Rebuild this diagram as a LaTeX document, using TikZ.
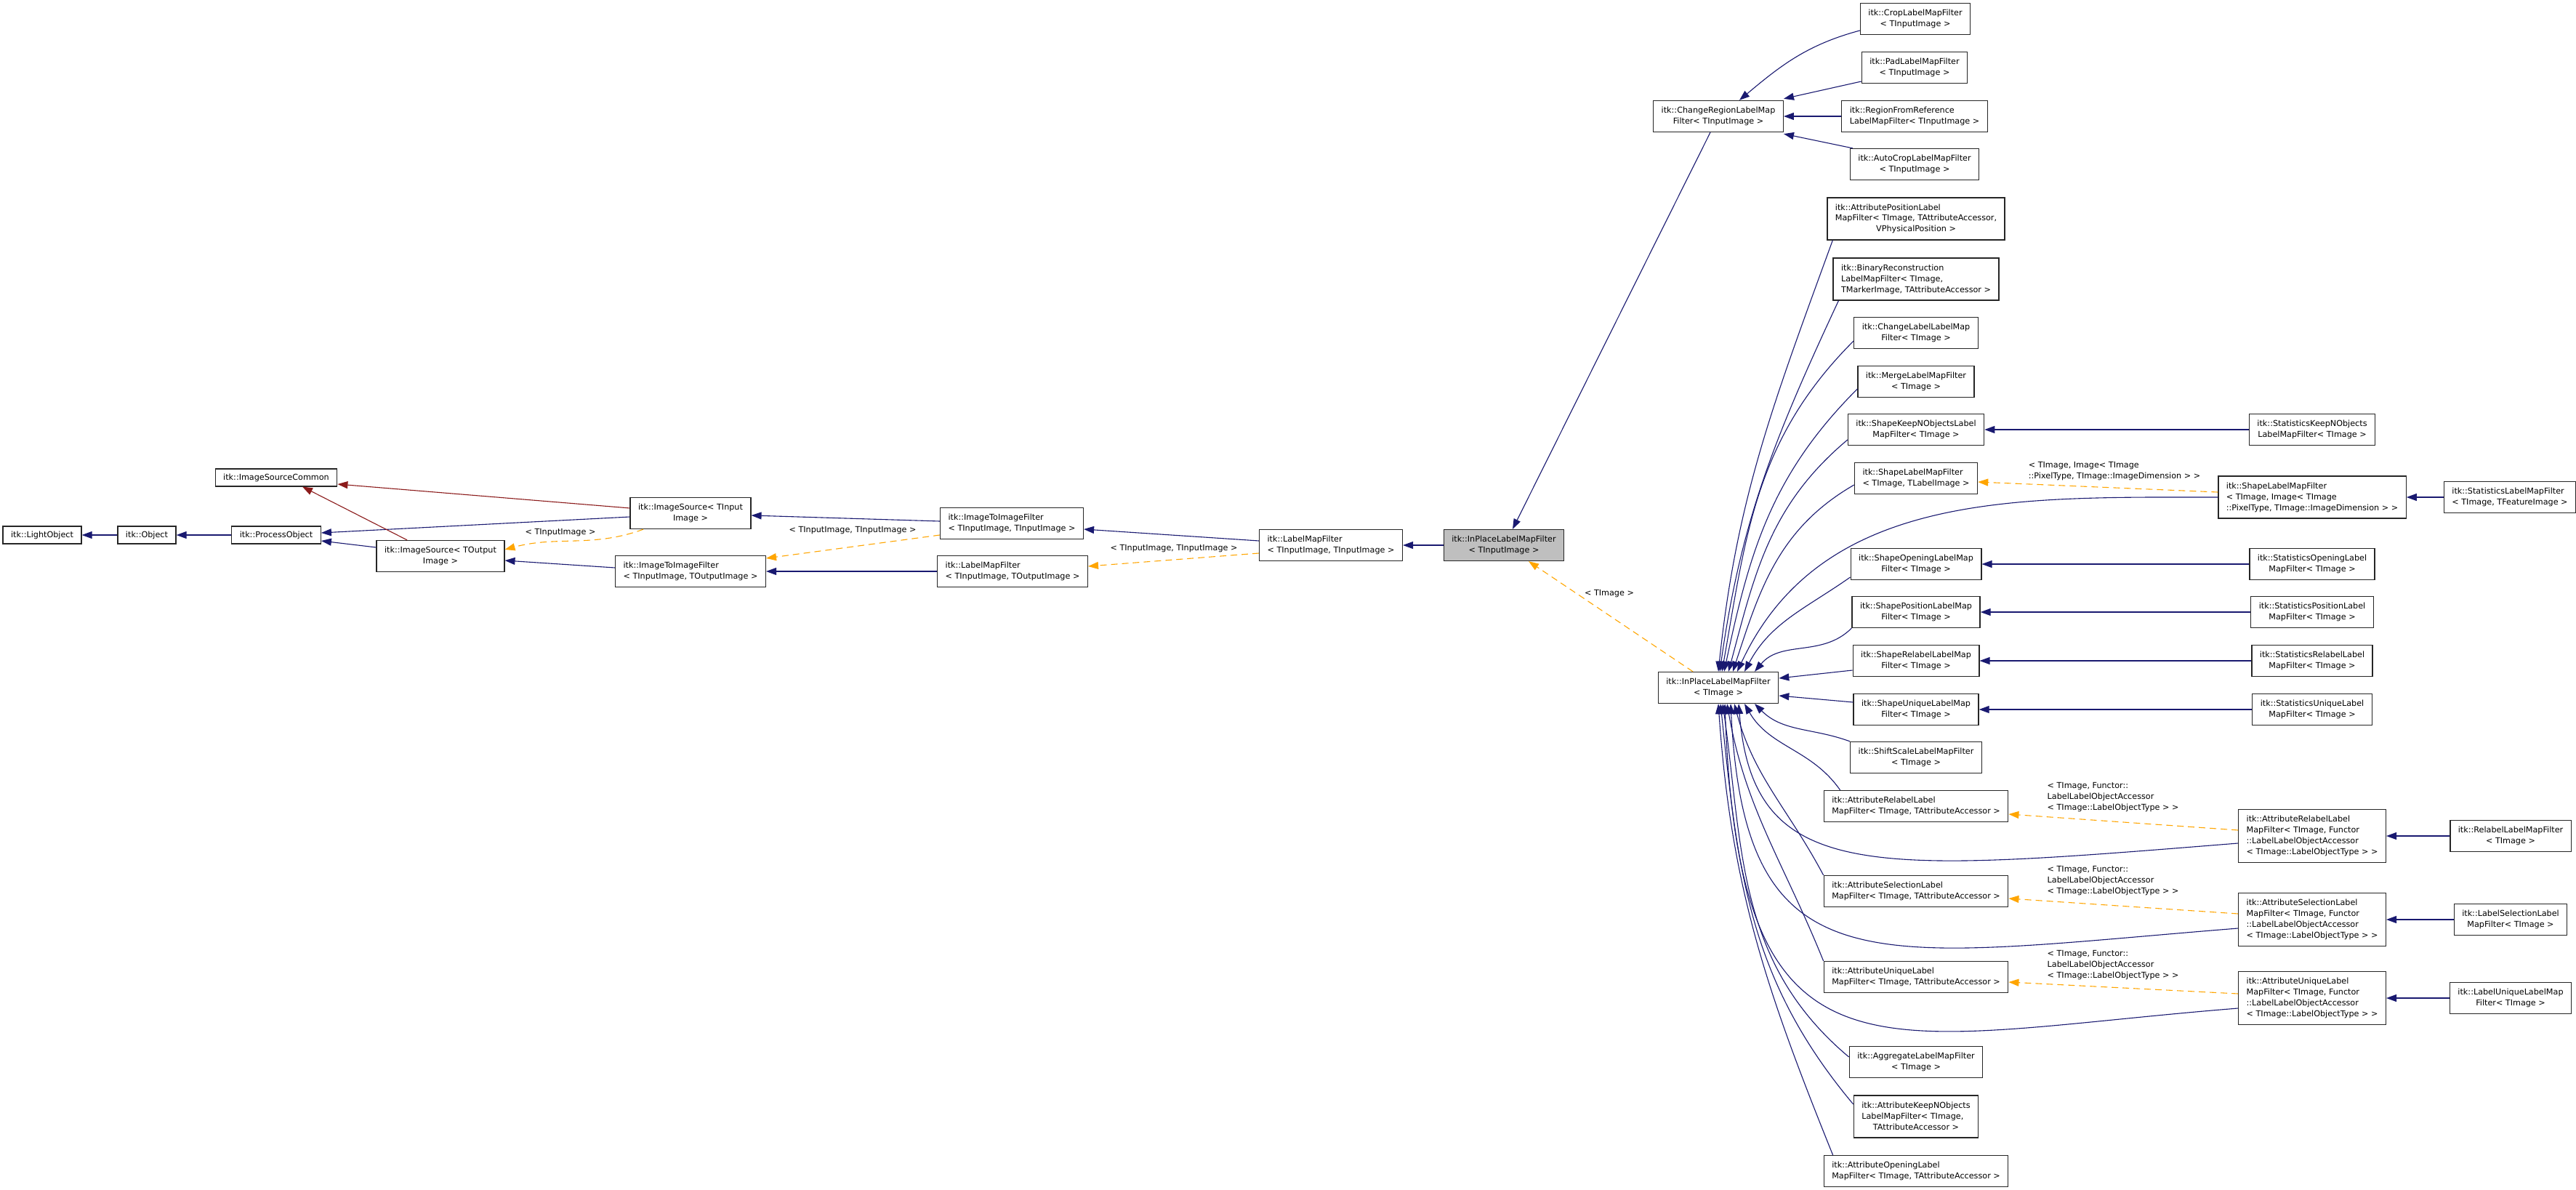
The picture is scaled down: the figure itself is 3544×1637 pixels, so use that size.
\documentclass[tikz,border=0pt]{standalone}
\usepackage{fontspec}
\setmainfont{DejaVu Sans}
\usetikzlibrary{arrows.meta}

\definecolor{navyline}{HTML}{191970}
\definecolor{orangeline}{HTML}{FFA500}
\definecolor{redline}{HTML}{8B1A1A}
\definecolor{nodegray}{HTML}{BFBFBF}

% first lines left, last line centred (doxygen labels)
\newcommand{\dl}[2]{\begin{tabular}{@{}l@{}}#1\\\multicolumn{1}{@{}c@{}}{#2}\end{tabular}}

\begin{document}
\begin{tikzpicture}[
				x=1pt, y=-1pt,
				cls/.style={draw=black!85, line width=1.3pt, fill=white, inner xsep=11pt, inner ysep=6.5pt, font=\fontsize{11.2}{15}\selectfont},
				current/.style={cls, fill=nodegray},
				lbl/.style={inner sep=0pt, align=left, font=\fontsize{11.2}{15}\selectfont},
				pub/.style={-{Triangle[length=14pt, width=10pt]}, draw=navyline, line width=1.1pt},
				priv/.style={-{Triangle[length=14pt, width=10pt]}, draw=redline, line width=1.1pt},
				tmpl/.style={-{Triangle[length=14pt, width=10pt]}, draw=orangeline, line width=1.1pt, dash pattern=on 9pt off 6pt}
				]
				
				\useasboundingbox (0,0) rectangle (3544,1637);
				
				% Base classes
				\node[cls] (lightobj) at (58,736) {itk::LightObject};
				\node[cls] (object) at (202,736) {itk::Object};
				\node[cls] (procobj) at (380,736) {itk::ProcessObject};
				\node[cls] (srccommon) at (380,657) {itk::ImageSourceCommon};
				\node[cls] (srcout) at (606,765) {\dl{itk::ImageSource< TOutput}{Image >}};
				\node[cls] (srcin) at (950,706) {\dl{itk::ImageSource< TInput}{Image >}};
				\node[cls] (i2iout) at (950,786) {\dl{itk::ImageToImageFilter}{< TInputImage, TOutputImage >}};
				\node[cls] (i2iin) at (1392,720) {\dl{itk::ImageToImageFilter}{< TInputImage, TInputImage >}};
				\node[cls] (lmfout) at (1393,786) {\dl{itk::LabelMapFilter}{< TInputImage, TOutputImage >}};
				\node[cls] (lmfin) at (1831,750) {\dl{itk::LabelMapFilter}{< TInputImage, TInputImage >}};
				\node[current] (inplacein) at (2069,750) {\dl{itk::InPlaceLabelMapFilter}{< TInputImage >}};
				\node[cls] (inplace) at (2364,946) {\dl{itk::InPlaceLabelMapFilter}{< TImage >}};
				
				% Region filters
				\node[cls] (chregion) at (2364,160) {\dl{itk::ChangeRegionLabelMap}{Filter< TInputImage >}};
				\node[cls] (crop) at (2635,26) {\dl{itk::CropLabelMapFilter}{< TInputImage >}};
				\node[cls] (pad) at (2634,93) {\dl{itk::PadLabelMapFilter}{< TInputImage >}};
				\node[cls] (regref) at (2634,160) {\dl{itk::RegionFromReference}{LabelMapFilter< TInputImage >}};
				\node[cls] (autocrop) at (2634,226) {\dl{itk::AutoCropLabelMapFilter}{< TInputImage >}};
				
				% In-place filters
				\node[cls] (attrpos) at (2636,301) {\dl{itk::AttributePositionLabel\\MapFilter< TImage, TAttributeAccessor,}{VPhysicalPosition >}};
				\node[cls] (binrec) at (2636,384) {\dl{itk::BinaryReconstruction\\LabelMapFilter< TImage,}{TMarkerImage, TAttributeAccessor >}};
				\node[cls] (chlabel) at (2636,458) {\dl{itk::ChangeLabelLabelMap}{Filter< TImage >}};
				\node[cls] (merge) at (2636,525) {\dl{itk::MergeLabelMapFilter}{< TImage >}};
				\node[cls] (shkeep) at (2636,591) {\dl{itk::ShapeKeepNObjectsLabel}{MapFilter< TImage >}};
				\node[cls] (shapelm) at (2636,658) {\dl{itk::ShapeLabelMapFilter}{< TImage, TLabelImage >}};
				\node[cls] (shopen) at (2636,776) {\dl{itk::ShapeOpeningLabelMap}{Filter< TImage >}};
				\node[cls] (shpos) at (2636,842) {\dl{itk::ShapePositionLabelMap}{Filter< TImage >}};
				\node[cls] (shrelab) at (2636,909) {\dl{itk::ShapeRelabelLabelMap}{Filter< TImage >}};
				\node[cls] (shuniq) at (2636,976) {\dl{itk::ShapeUniqueLabelMap}{Filter< TImage >}};
				\node[cls] (shift) at (2636,1042) {\dl{itk::ShiftScaleLabelMapFilter}{< TImage >}};
				\node[cls] (attrrelab) at (2636,1109) {\dl{itk::AttributeRelabelLabel}{MapFilter< TImage, TAttributeAccessor >}};
				\node[cls] (attrsel) at (2636,1226) {\dl{itk::AttributeSelectionLabel}{MapFilter< TImage, TAttributeAccessor >}};
				\node[cls] (attruniq) at (2636,1344) {\dl{itk::AttributeUniqueLabel}{MapFilter< TImage, TAttributeAccessor >}};
				\node[cls] (aggr) at (2636,1461) {\dl{itk::AggregateLabelMapFilter}{< TImage >}};
				\node[cls] (attrkeep) at (2636,1536) {\dl{itk::AttributeKeepNObjects\\LabelMapFilter< TImage,}{TAttributeAccessor >}};
				\node[cls] (attropen) at (2636,1611) {\dl{itk::AttributeOpeningLabel}{MapFilter< TImage, TAttributeAccessor >}};
				
				% Derived classes, right part
				\node[cls] (stkeep) at (3181,591) {\dl{itk::StatisticsKeepNObjects}{LabelMapFilter< TImage >}};
				\node[cls] (shapelmimg) at (3181,684) {\dl{itk::ShapeLabelMapFilter\\< TImage, Image< TImage}{::PixelType, TImage::ImageDimension > >}};
				\node[cls] (statlm) at (3453,684) {\dl{itk::StatisticsLabelMapFilter}{< TImage, TFeatureImage >}};
				\node[cls] (stopen) at (3181,776) {\dl{itk::StatisticsOpeningLabel}{MapFilter< TImage >}};
				\node[cls] (stpos) at (3181,842) {\dl{itk::StatisticsPositionLabel}{MapFilter< TImage >}};
				\node[cls] (strelab) at (3181,909) {\dl{itk::StatisticsRelabelLabel}{MapFilter< TImage >}};
				\node[cls] (stuniq) at (3181,976) {\dl{itk::StatisticsUniqueLabel}{MapFilter< TImage >}};
				\node[cls] (attrrelabf) at (3181,1150) {\dl{itk::AttributeRelabelLabel\\MapFilter< TImage, Functor\\::LabelLabelObjectAccessor}{< TImage::LabelObjectType > >}};
				\node[cls] (relab) at (3454,1150) {\dl{itk::RelabelLabelMapFilter}{< TImage >}};
				\node[cls] (attrself) at (3181,1265) {\dl{itk::AttributeSelectionLabel\\MapFilter< TImage, Functor\\::LabelLabelObjectAccessor}{< TImage::LabelObjectType > >}};
				\node[cls] (labsel) at (3454,1265) {\dl{itk::LabelSelectionLabel}{MapFilter< TImage >}};
				\node[cls] (attruniqf) at (3181,1373) {\dl{itk::AttributeUniqueLabel\\MapFilter< TImage, Functor\\::LabelLabelObjectAccessor}{< TImage::LabelObjectType > >}};
				\node[cls] (labuniq) at (3454,1373) {\dl{itk::LabelUniqueLabelMap}{Filter< TImage >}};
				
				% Template labels
				\node[lbl] (lblsrc) at (771,733) {< TInputImage >};
				\node[lbl] (lbli2i) at (1173,730) {< TInputImage, TInputImage >};
				\node[lbl] (lbllmf) at (1615,755) {< TInputImage, TInputImage >};
				\node[lbl] (lblinplace) at (2214,817) {< TImage >};
				\node[lbl] (lblshape) at (2909,648) {< TImage, Image< TImage\\::PixelType, TImage::ImageDimension > >};
				\node[lbl] (lblrelab) at (2907,1097) {< TImage, Functor::\\LabelLabelObjectAccessor\\< TImage::LabelObjectType > >};
				\node[lbl] (lblsel) at (2907,1212) {< TImage, Functor::\\LabelLabelObjectAccessor\\< TImage::LabelObjectType > >};
				\node[lbl] (lbluniq) at (2907,1328) {< TImage, Functor::\\LabelLabelObjectAccessor\\< TImage::LabelObjectType > >};
				
				% Base chain
				\draw[pub] (object) -- (lightobj);
				\draw[pub] (procobj) -- (object);
				\draw[pub] ([yshift=-5pt]srcin.west) -- ([yshift=3pt]procobj.east);
				\draw[priv] ([yshift=7pt]srcin.west) -- ([yshift=-9pt]srccommon.east);
				\draw[pub] ([yshift=12pt]srcout.west) -- ([yshift=-8pt]procobj.east);
				\draw[priv] ([xshift=-46pt]srcout.north) -- ([xshift=36pt]srccommon.south);
				\draw[tmpl] ([xshift=-65pt]srcin.south) to[out=200, in=15] ([yshift=9pt]srcout.east);
				\draw[pub] ([yshift=5pt]i2iout.west) -- ([yshift=-6pt]srcout.east);
				\draw[pub] ([yshift=3pt]i2iin.west) -- ([yshift=-3pt]srcin.east);
				\draw[tmpl] ([yshift=-16pt]i2iin.west) -- ([yshift=18pt]i2iout.east);
				\draw[pub] (lmfout.west) -- (i2iout.east);
				\draw[pub] ([yshift=6pt]lmfin.west) -- ([yshift=-8pt]i2iin.east);
				\draw[tmpl] ([yshift=-11pt]lmfin.west) -- ([yshift=7pt]lmfout.east);
				\draw[pub] (inplacein.west) -- (lmfin.east);
				\draw[pub] ([xshift=-11pt]chregion.south) -- ([xshift=12pt]inplacein.north);
				\draw[tmpl] ([xshift=-35pt]inplace.north) -- ([xshift=34pt]inplacein.south);
				
				% Region filters
				\draw[pub] ([yshift=-16pt]crop.west) to[out=195, in=40] ([xshift=29pt]chregion.north);
				\draw[pub] ([yshift=-19pt]pad.west) -- ([yshift=2pt]chregion.north east);
				\draw[pub] (regref.west) -- (chregion.east);
				\draw[pub] ([xshift=4pt]autocrop.north west) -- ([yshift=-2pt]chregion.south east);
				
				% Into InPlaceLabelMapFilter< TImage >, from above
				\draw[pub] ([xshift=8pt]attrpos.south west) to[out=250, in=84] ([xshift=0pt]inplace.north);
				\draw[pub] ([xshift=8pt]binrec.south west) to[out=245, in=82] ([xshift=2pt]inplace.north);
				\draw[pub] ([yshift=-11pt]chlabel.west) to[out=225, in=80] ([xshift=5pt]inplace.north);
				\draw[pub] ([yshift=-10pt]merge.west) to[out=225, in=78] ([xshift=8pt]inplace.north);
				\draw[pub] ([yshift=-14pt]shkeep.west) to[out=220, in=75] ([xshift=14pt]inplace.north);
				\draw[pub] ([yshift=-9pt]shapelm.west) to[out=210, in=72] ([xshift=20pt]inplace.north);
				\draw[pub] (shapelmimg.west) to[out=180, in=65] ([xshift=26pt]inplace.north);
				\draw[pub] ([yshift=-18pt]shopen.west) to[out=215, in=62] ([xshift=36pt]inplace.north);
				\draw[pub] (shpos.south west) to[out=225, in=50] ([xshift=50pt]inplace.north);
				\draw[pub] ([yshift=-13pt]shrelab.west) -- ([yshift=13pt]inplace.east);
				\draw[pub] ([yshift=10pt]shuniq.west) -- ([yshift=-11pt]inplace.east);
				
				% Into InPlaceLabelMapFilter< TImage >, from below
				\draw[pub] (shift.north west) to[out=160, in=-45] ([xshift=50pt]inplace.south);
				\draw[pub] ([xshift=23pt]attrrelab.north west) to[out=125, in=-60] ([xshift=36pt]inplace.south);
				\draw[pub] ([yshift=-10pt]attrrelabf.west) .. controls +(-500,40) and +(20,250) .. ([xshift=28pt]inplace.south);
				\draw[pub] (attrsel.north west) to[out=118, in=-75] ([xshift=22pt]inplace.south);
				\draw[pub] ([yshift=-12pt]attrself.west) .. controls +(-500,40) and +(20,400) .. ([xshift=17pt]inplace.south);
				\draw[pub] (attruniq.north west) to[out=112, in=-80] ([xshift=12pt]inplace.south);
				\draw[pub] ([yshift=-14pt]attruniqf.west) .. controls +(-500,40) and +(20,550) .. ([xshift=9pt]inplace.south);
				\draw[pub] ([yshift=7pt]aggr.west) to[out=140, in=-82] ([xshift=6pt]inplace.south);
				\draw[pub] ([yshift=17pt]attrkeep.west) to[out=130, in=-84] ([xshift=3pt]inplace.south);
				\draw[pub] ([xshift=13pt]attropen.north west) to[out=112, in=-86] ([xshift=0pt]inplace.south);
				
				% Statistics and functor classes
				\draw[pub] (stkeep.west) -- (shkeep.east);
				\draw[pub] (statlm.west) -- (shapelmimg.east);
				\draw[tmpl] ([yshift=7pt]shapelmimg.west) -- ([yshift=-5pt]shapelm.east);
				\draw[pub] (stopen.west) -- (shopen.east);
				\draw[pub] (stpos.west) -- (shpos.east);
				\draw[pub] (strelab.west) -- (shrelab.east);
				\draw[pub] (stuniq.west) -- (shuniq.east);
				\draw[pub] (relab.west) -- (attrrelabf.east);
				\draw[tmpl] ([yshift=8pt]attrrelabf.west) -- ([yshift=-11pt]attrrelab.east);
				\draw[pub] (labsel.west) -- (attrself.east);
				\draw[tmpl] ([yshift=8pt]attrself.west) -- ([yshift=-10pt]attrsel.east);
				\draw[pub] (labuniq.west) -- (attruniqf.east);
				\draw[tmpl] ([yshift=6pt]attruniqf.west) -- ([yshift=-7pt]attruniq.east);
				
\end{tikzpicture}
\end{document}
